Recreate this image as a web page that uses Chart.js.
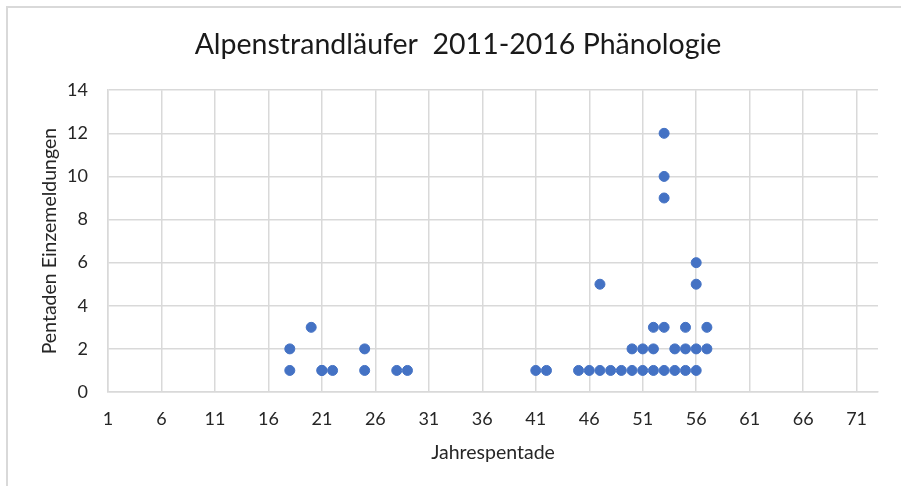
<!DOCTYPE html>
<html>
<head>
<meta charset="utf-8">
<script src="https://cdn.jsdelivr.net/npm/chart.js@4/dist/chart.umd.min.js"></script>
<style>
  html, body { margin: 0; padding: 0; background: #fff; overflow: hidden; }
  #wrap { position: relative; width: 901px; height: 486px; }
  #frame { position: absolute; left: 6px; top: 6px; width: 1200px; height: 800px; border: 2px solid #d9d9d9; box-sizing: border-box; }
  canvas { position: absolute; left: 0; top: 0; }
</style>
</head>
<body>
<div id="wrap">
  <div id="frame"></div>
  <canvas id="chart1" width="901" height="486"></canvas>
</div>
<script>
// Jahrespentade (x) und Anzahl Einzelmeldungen (y), je ein Punkt
const pentade = [
  18, 21, 21, 22, 25, 28, 29, 41, 42, 45, 46, 47, 48, 49, 50, 51, 52, 53, 54, 55, 56,
  18, 25, 50, 51, 52, 54, 55, 56, 57,
  20, 52, 53, 55, 57,
  47, 56,
  56,
  53, 53, 53
];
const meldungen = [
  1, 1, 1, 1, 1, 1, 1, 1, 1, 1, 1, 1, 1, 1, 1, 1, 1, 1, 1, 1, 1,
  2, 2, 2, 2, 2, 2, 2, 2, 2,
  3, 3, 3, 3, 3,
  5, 5,
  6,
  9, 10, 12
];
const xTicks = [1, 6, 11, 16, 21, 26, 31, 36, 41, 46, 51, 56, 61, 66, 71];
const yTicks = [0, 2, 4, 6, 8, 10, 12, 14];

const points = pentade.map((x, i) => ({ x: x, y: meldungen[i] }));

Chart.defaults.font.family = "Lato, 'Liberation Sans', sans-serif";
Chart.defaults.color = "#262626";

const gridColor = "#d9d9d9";

new Chart(document.querySelector("#chart1"), {
  type: "scatter",
  data: {
    datasets: [
      {
        label: "Einzelmeldungen",
        data: points,
        backgroundColor: "#4472C4",
        borderColor: "#4472C4",
        borderWidth: 1,
        pointRadius: 5,
        pointHoverRadius: 5,
      },
    ],
  },
  options: {
    responsive: false,
    animation: false,
    // left padding shifts the title centre to where Excel had it
    layout: { padding: { left: 38, right: 23, top: 0, bottom: 0 } },
    plugins: {
      legend: { display: false },
      tooltip: { enabled: false },
      title: {
        display: true,
        text: "Alpenstrandläufer  2011-2016 Phänologie",
        color: "#1a1a1a",
        font: { size: 28.5, weight: "normal" },
        padding: { top: 28, bottom: 28 },
      },
    },
    scales: {
      x: {
        type: "linear",
        min: 1,
        max: 73,
        afterBuildTicks: (scale) => {
          scale.ticks = xTicks.map((v) => ({ value: v }));
        },
        afterFit: (scale) => {
          scale.height = 94;
        },
        grid: { color: gridColor, lineWidth: 1.5, drawTicks: false },
        border: { color: gridColor, width: 1.5 },
        ticks: { font: { size: 18 }, padding: 16, maxRotation: 0, autoSkip: false },
        title: {
          display: true,
          text: "Jahrespentade",
          font: { size: 19.5 },
          padding: { top: 0, bottom: 22 },
        },
      },
      y: {
        min: 0,
        max: 14,
        afterBuildTicks: (scale) => {
          scale.ticks = yTicks.map((v) => ({ value: v }));
        },
        afterFit: (scale) => {
          scale.width = 70;
        },
        grid: { color: gridColor, lineWidth: 1.5, drawTicks: false },
        border: { color: gridColor, width: 1.5 },
        ticks: { font: { size: 18 }, padding: 20 },
        title: {
          display: true,
          text: "Pentaden Einzemeldungen",
          font: { size: 19.5 },
          padding: { top: 0, bottom: 0 },
        },
      },
    },
  },
});
</script>
</body>
</html>
